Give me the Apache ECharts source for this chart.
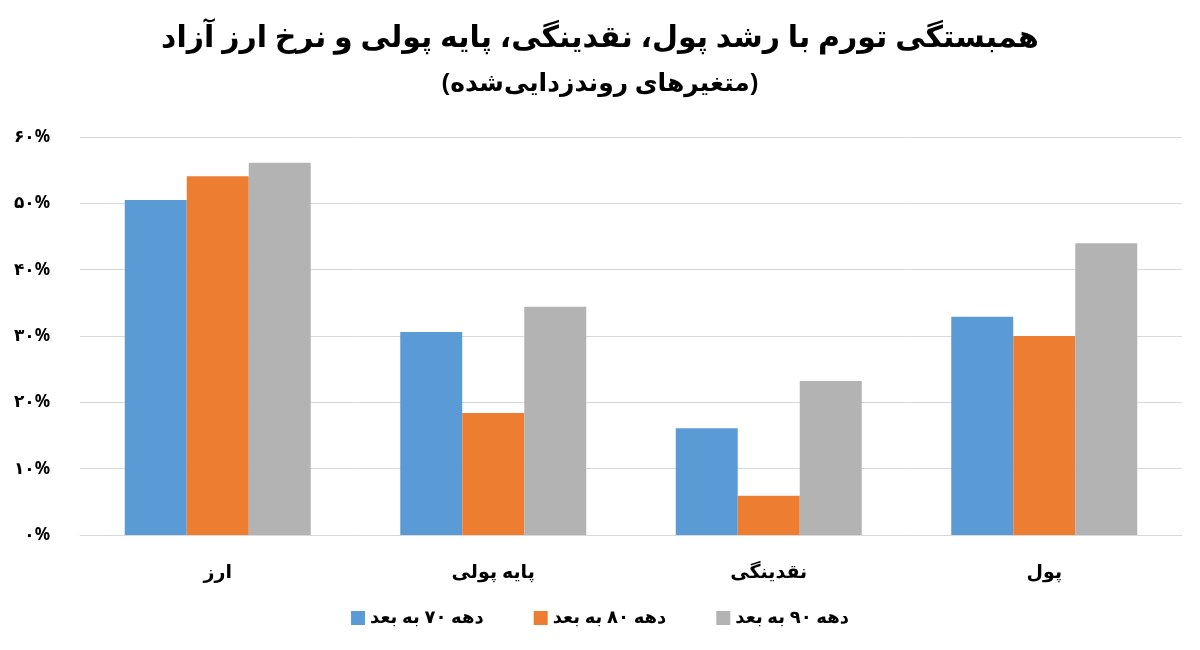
<!DOCTYPE html>
<html><head><meta charset="utf-8">
<script src="https://cdn.jsdelivr.net/npm/echarts@6/dist/echarts.min.js"></script>
<style>html,body{margin:0;background:#fff}#c{width:1200px;height:650px}</style>
</head><body><div id="c"></div>
<script>
var categories = ['ارز', 'پایه پولی', 'نقدینگی', 'پول'];
var seriesNames = ['دهه ۷۰ به بعد', 'دهه ۸۰ به بعد', 'دهه ۹۰ به بعد'];
var s70 = [50.5, 30.6, 16.1, 32.9];
var s80 = [54.1, 18.4, 5.9, 30.0];
var s90 = [56.1, 34.4, 23.2, 44.0];
var colors = ['#5b9bd5', '#ed7d31', '#b3b3b3'];

function fa(n) { return String(n).replace(/\d/g, function (d) { return '۰۱۲۳۴۵۶۷۸۹'[d]; }); }

var font = '"Noto Sans", "DejaVu Sans", sans-serif';
var chart = echarts.init(document.getElementById('c'));
chart.setOption({
    title: {
        text: 'همبستگی تورم با رشد پول، نقدینگی، پایه پولی و نرخ ارز آزاد',
        subtext: '(متغیرهای روندزدایی‌شده)',
        left: 'center', top: 18, itemGap: 18,
        textStyle: { fontSize: 30, fontWeight: 'bold', color: '#000', fontFamily: font },
        subtextStyle: { fontSize: 25, fontWeight: 'bold', color: '#000', fontFamily: font }
    },
    legend: {
        bottom: 18, left: 'center', itemWidth: 14, itemHeight: 14, itemGap: 50, icon: 'rect',
        textStyle: { fontSize: 18, fontWeight: 'bold', color: '#000', fontFamily: font },
        data: seriesNames
    },
    grid: { left: 80, right: 18, top: 137, bottom: 115 },
    xAxis: {
        type: 'category', data: categories,
        axisTick: { show: false },
        axisLine: { lineStyle: { color: '#d9d9d9' } },
        axisLabel: { margin: 28, fontSize: 19, fontWeight: 'bold', color: '#000', fontFamily: font }
    },
    yAxis: {
        type: 'value', min: 0, max: 60, interval: 10,
        axisLabel: { fontSize: 17, fontWeight: 'bold', color: '#000', fontFamily: font, margin: 30,
            formatter: function (v) { return fa(v) + '%'; } },
        splitLine: { lineStyle: { color: '#d9d9d9' } }
    },
    series: [
        { name: seriesNames[0], type: 'bar', data: s70, itemStyle: { color: colors[0] }, barWidth: 62, barGap: '0%' },
        { name: seriesNames[1], type: 'bar', data: s80, itemStyle: { color: colors[1] }, barWidth: 62, barGap: '0%' },
        { name: seriesNames[2], type: 'bar', data: s90, itemStyle: { color: colors[2] }, barWidth: 62, barGap: '0%' }
    ]
});
</script></body></html>
